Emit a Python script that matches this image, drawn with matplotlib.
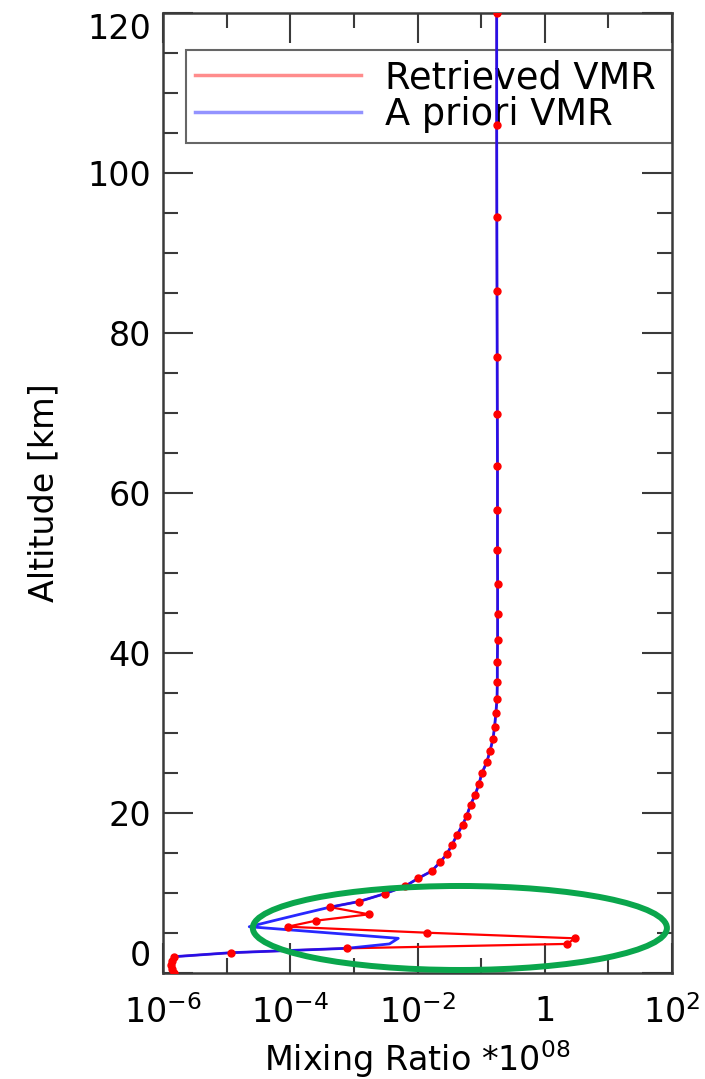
import matplotlib
matplotlib.use("Agg")
import matplotlib.pyplot as plt
from matplotlib.patches import Ellipse
from matplotlib.ticker import FixedLocator, FixedFormatter

# altitude grid of the profile (km)
altitud = [120, 106.0, 94.5, 85.2, 77.0, 69.8, 63.4, 57.8, 52.9, 48.6,
           44.8, 41.6, 38.8, 36.3, 34.2, 32.5, 30.7, 29.2, 27.7, 26.3,
           25.0, 23.6, 22.2, 21.0, 19.6, 18.5, 17.2, 16.0, 14.8, 13.8,
           12.7, 11.8, 10.8, 9.9, 8.9, 8.2, 7.3, 6.5, 5.75, 5.0,
           4.3, 3.6, 3.05, 2.5, 2.0, 1.5, 1.0, 0.5, 0.0]

# a priori VMR (*1e8)
vmr_apriori = [0.175, 0.175, 0.176, 0.177, 0.178, 0.179, 0.180, 0.180, 0.180, 0.181,
               0.181, 0.181, 0.179, 0.179, 0.177, 0.170, 0.162, 0.153, 0.137, 0.122,
               0.103, 0.092, 0.080, 0.068, 0.059, 0.051, 0.0415, 0.0347, 0.0286, 0.0224,
               0.0166, 0.0102, 0.0063, 0.0031, 0.0012, 4.2e-4, 1.4e-4, 5.4e-5, 2.25e-5, 3.7e-4,
               4.95e-3, 3.6e-3, 7.7e-4, 1.15e-5, 1.45e-6, 1.35e-6, 1.32e-6, 1.38e-6, 1.45e-6]

# retrieved VMR (*1e8), differs from a priori below ~8 km
vmr_retrieved = [0.175, 0.175, 0.176, 0.177, 0.178, 0.179, 0.180, 0.180, 0.180, 0.181,
                 0.181, 0.181, 0.179, 0.179, 0.177, 0.170, 0.162, 0.153, 0.137, 0.122,
                 0.103, 0.092, 0.080, 0.068, 0.059, 0.051, 0.0415, 0.0347, 0.0286, 0.0224,
                 0.0166, 0.0102, 0.0063, 0.0031, 0.0012, 4.2e-4, 1.71e-3, 2.49e-4, 9.0e-5, 0.0142,
                 2.97, 2.25, 7.7e-4, 1.15e-5, 1.45e-6, 1.35e-6, 1.32e-6, 1.38e-6, 1.45e-6]

x_mayores = [1e-6, 1e-4, 1e-2, 1, 1e2]
x_etiquetas = [r"$10^{-6}$", r"$10^{-4}$", r"$10^{-2}$", "1", r"$10^{2}$"]
x_menores = [1e-5, 1e-3, 1e-1, 1e1]
y_mayores = [0, 20, 40, 60, 80, 100, 120]
y_menores = [v for v in range(0, 121, 5) if v % 20]

plt.rcParams['font.family'] = ['DejaVu Sans']
gris = '#3a3a3a'

fig = plt.figure(figsize=(7.05, 10.79), dpi=100)
ax = fig.add_axes([0.2316, 0.0985, 0.7216, 0.8897])

ax.plot(vmr_retrieved, altitud, color='red', lw=1.6, label='Retrieved VMR', zorder=3)
ax.plot(vmr_apriori, altitud, color='#1010ff', lw=2.0, alpha=0.9, label='A priori VMR', zorder=4)
ax.plot(vmr_retrieved, altitud, ls='none', marker='o', ms=5, color='red', zorder=5)

ax.set_xscale('log')
ax.set_xlim(1e-6, 1e2)
ax.set_ylim(0, 120)

ax.xaxis.set_major_locator(FixedLocator(x_mayores))
ax.xaxis.set_major_formatter(FixedFormatter(x_etiquetas))
ax.xaxis.set_minor_locator(FixedLocator(x_menores))
ax.xaxis.set_minor_formatter(FixedFormatter([]))
ax.yaxis.set_major_locator(FixedLocator(y_mayores))
ax.yaxis.set_minor_locator(FixedLocator(y_menores))

ax.tick_params(which='both', direction='in', top=True, right=True,
               color=gris, width=1.5, labelsize=24)
ax.tick_params(which='major', length=21.6)
ax.tick_params(which='minor', length=10.8)
ax.tick_params(axis='y', pad=9)
ax.tick_params(axis='x', pad=16)
for s in ax.spines.values():
    s.set_color(gris)
    s.set_linewidth(1.8)

# keep the end labels inside the frame
ylabs = ax.get_yticklabels()
ylabs[0].set_va('bottom')
ylabs[-1].set_va('top')

ax.set_xlabel(r"Mixing Ratio $*10^{08}$", fontsize=24, labelpad=6)
ax.set_ylabel("Altitude [km]", fontsize=24, labelpad=19)

leg = ax.legend(loc='upper left', bbox_to_anchor=(0.0446, 0.865, 0.9554, 0.096),
                mode='expand', borderaxespad=0, fontsize=26.5, handlelength=4.5,
                handletextpad=0.65, labelspacing=0.0, borderpad=0.25,
                fancybox=False, framealpha=1, edgecolor='#666666')
leg.get_frame().set_linewidth(1.5)
leg.set_zorder(2)
for h in leg.get_lines():
    h.set_alpha(0.45)
    h.set_linewidth(2.5)

# highlight of the lower troposphere
ax.add_patch(Ellipse((0.583, 0.0466), 0.814, 0.0875, transform=ax.transAxes,
                     fill=False, edgecolor='#0aa64c', lw=4.3, zorder=6, clip_on=False))

fig.savefig('out.png', dpi=100)
